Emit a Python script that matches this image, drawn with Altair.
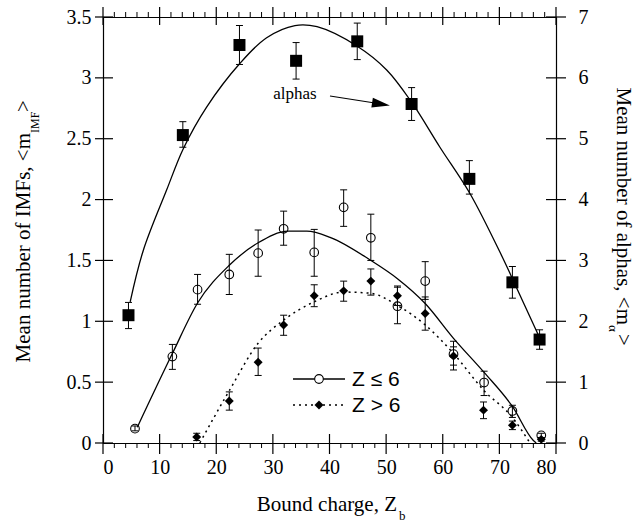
import altair as alt
import pandas as pd

# ---------------- data ----------------
# alphas (right axis units, <m_alpha>)
a_x = [4.5, 14.1, 24.1, 34.1, 44.9, 54.5, 64.7, 72.3, 77.1]
a_y = [2.10, 5.06, 6.54, 6.28, 6.60, 5.57, 4.34, 2.64, 1.70]
a_hi = [2.31, 5.28, 6.86, 6.58, 6.90, 5.84, 4.64, 2.90, 1.86]
a_lo = [1.88, 4.86, 6.22, 5.98, 6.30, 5.30, 4.09, 2.38, 1.54]

a_fit_x = [4.8, 7.1, 11.25, 14.2, 18.3, 24.2, 28.9, 33.9, 37.8, 44.9, 50.1, 54.5, 59.5, 64.8, 70.6, 72.3, 76.9]
a_fit_y = [2.32, 3.16, 4.16, 4.84, 5.52, 6.24, 6.66, 6.86, 6.84, 6.52, 6.13, 5.60, 4.86, 4.10, 3.04, 2.70, 1.77]

# IMFs, Z <= 6 (left axis units)
c_x = [5.65, 12.25, 16.7, 22.3, 27.4, 31.9, 37.3, 42.5, 47.3, 52.0, 56.9, 61.9, 67.3, 72.3, 77.4]
c_y = [0.118, 0.71, 1.26, 1.385, 1.56, 1.76, 1.566, 1.936, 1.686, 1.124, 1.33, 0.73, 0.497, 0.263, 0.063]
c_hi = [0.14, 0.81, 1.385, 1.55, 1.75, 1.905, 1.755, 2.08, 1.88, 1.28, 1.49, 0.836, 0.59, 0.31, 0.08]
c_lo = [0.10, 0.605, 1.14, 1.22, 1.37, 1.625, 1.37, 1.78, 1.50, 0.98, 1.18, 0.60, 0.39, 0.21, 0.045]

c_fit_x = [6.06, 12.25, 16.7, 22.3, 27.4, 32.7, 36.0, 40.1, 47.3, 52.0, 56.9, 61.9, 67.3, 72.3, 76.0, 76.5]
c_fit_y = [0.13, 0.735, 1.15, 1.46, 1.645, 1.74, 1.74, 1.69, 1.50, 1.35, 1.146, 0.86, 0.58, 0.30, 0.02, 0.0]

# IMFs, Z > 6 (left axis units)
d_x = [16.55, 22.3, 27.4, 31.9, 37.3, 42.5, 47.3, 52.0, 56.9, 61.9, 67.2, 72.3, 77.4]
d_y = [0.05, 0.345, 0.664, 0.97, 1.21, 1.25, 1.33, 1.21, 1.064, 0.715, 0.27, 0.146, 0.03]
d_hi = [0.08, 0.42, 0.78, 1.05, 1.30, 1.33, 1.43, 1.29, 1.20, 0.79, 0.337, 0.18, 0.045]
d_lo = [0.02, 0.27, 0.555, 0.885, 1.12, 1.165, 1.215, 1.13, 0.927, 0.64, 0.20, 0.11, 0.015]

d_fit_x = [17.1, 22.3, 27.4, 31.9, 37.3, 42.5, 47.3, 52.0, 56.9, 61.9, 67.3, 72.3, 75.4]
d_fit_y = [0.0, 0.43, 0.82, 1.01, 1.16, 1.24, 1.23, 1.13, 0.97, 0.735, 0.43, 0.21, 0.0]

# tick positions / labels
x_major = [0, 10, 20, 30, 40, 50, 60, 70, 80]
x_minor = [2, 4, 6, 8, 12, 14, 16, 18, 22, 24, 26, 28, 32, 34, 36, 38, 42, 44, 46, 48,
           52, 54, 56, 58, 62, 64, 66, 68, 72, 74, 76, 78]
y_left_ticks = [0, 0.5, 1, 1.5, 2, 2.5, 3, 3.5]
y_right_ticks = [0, 1, 2, 3, 4, 5, 6, 7]

# ---------------- helpers ----------------
SERIF = "Liberation Serif"
SANS = "Liberation Sans"

xaxis = alt.Axis(values=x_major, ticks=False, domain=True, labelPadding=14, format="d",
                 labelOverlap=False, labelFont=SERIF, labelFontSize=20,
                 labelColor="black", grid=False)
yaxis_l = alt.Axis(values=y_left_ticks, ticks=False, domain=True, labelPadding=12, format="~g",
                   labelOverlap=False, labelFont=SERIF, labelFontSize=20,
                   labelColor="black", grid=False)
yaxis_r = alt.Axis(orient="right", values=y_right_ticks, ticks=False, domain=True, format="d",
                   labelOverlap=False, labelPadding=22, labelFont=SERIF, labelFontSize=20,
                   labelColor="black", grid=False)


def X(field="x"):
    return alt.X(f"{field}:Q", scale=alt.Scale(domain=[0, 80], nice=False), axis=xaxis, title=None)


def YL(field="y"):
    return alt.Y(f"{field}:Q", scale=alt.Scale(domain=[0, 3.5], nice=False), axis=yaxis_l, title=None)


def YR(field="y"):
    return alt.Y(f"{field}:Q", scale=alt.Scale(domain=[0, 7], nice=False), axis=yaxis_r, title=None)


alphas = pd.DataFrame({"x": a_x, "y": a_y, "hi": a_hi, "lo": a_lo})
alpha_fit = pd.DataFrame({"x": a_fit_x, "y": a_fit_y})
circ = pd.DataFrame({"x": c_x, "y": c_y, "hi": c_hi, "lo": c_lo})
circ_fit = pd.DataFrame({"x": c_fit_x, "y": c_fit_y})
diam = pd.DataFrame({"x": d_x, "y": d_y, "hi": d_hi, "lo": d_lo})
diam_fit = pd.DataFrame({"x": d_fit_x, "y": d_fit_y})

one = pd.DataFrame({"a": [0]})

# ---------------- left-axis layers ----------------
left_layers = []

xt_major_bot = pd.DataFrame({"x": x_major, "y": [0] * len(x_major)})
xt_major_top = pd.DataFrame({"x": x_major, "y": [3.5] * len(x_major)})
xt_minor_bot = pd.DataFrame({"x": x_minor, "y": [0] * len(x_minor)})
xt_minor_top = pd.DataFrame({"x": x_minor, "y": [3.5] * len(x_minor)})
yt_left = pd.DataFrame({"x": [0] * len(y_left_ticks), "y": y_left_ticks})

TK = dict(color="black", opacity=1)
left_layers.append(alt.Chart(xt_major_bot).mark_tick(orient="vertical", size=20, thickness=1.2, yOffset=1, **TK).encode(x=X(), y=YL()))
left_layers.append(alt.Chart(xt_major_top).mark_tick(orient="vertical", size=18, thickness=1.2, yOffset=-1, **TK).encode(x=X(), y=YL()))
left_layers.append(alt.Chart(xt_minor_bot).mark_tick(orient="vertical", size=5, thickness=1, yOffset=2.5, **TK).encode(x=X(), y=YL()))
left_layers.append(alt.Chart(xt_minor_top).mark_tick(orient="vertical", size=5, thickness=1, yOffset=-2.5, **TK).encode(x=X(), y=YL()))
left_layers.append(alt.Chart(yt_left).mark_tick(orient="horizontal", size=18, thickness=1.2, xOffset=1, **TK).encode(x=X(), y=YL()))

# curves
left_layers.append(alt.Chart(circ_fit).mark_line(color="black", strokeWidth=1.3, interpolate="monotone").encode(x=X(), y=YL()))
left_layers.append(alt.Chart(diam_fit).mark_line(color="black", strokeWidth=1.5, strokeDash=[2, 4], interpolate="monotone").encode(x=X(), y=YL()))

# error bars
for df in (circ, diam):
    left_layers.append(alt.Chart(df).mark_rule(color="black", strokeWidth=1, opacity=1).encode(x=X(), y=YL("lo"), y2="hi:Q"))
    left_layers.append(alt.Chart(df).mark_tick(orient="horizontal", size=7, thickness=1, **TK).encode(x=X(), y=YL("hi")))
    left_layers.append(alt.Chart(df).mark_tick(orient="horizontal", size=7, thickness=1, **TK).encode(x=X(), y=YL("lo")))

# points
left_layers.append(alt.Chart(circ).mark_point(shape="circle", filled=False, size=75, color="black", strokeWidth=1.1, opacity=1).encode(x=X(), y=YL()))
left_layers.append(alt.Chart(diam).mark_point(shape="diamond", filled=True, size=80, color="black", opacity=1).encode(x=X(), y=YL()))

# legend (manual)
left_layers.append(alt.Chart(one).mark_rule(color="black", strokeWidth=1.3).encode(x=alt.value(190), x2=alt.value(242), y=alt.value(362)))
left_layers.append(alt.Chart(one).mark_rule(color="black", strokeWidth=1.5, strokeDash=[2, 4]).encode(x=alt.value(190), x2=alt.value(242), y=alt.value(388)))
left_layers.append(alt.Chart(one).mark_point(shape="circle", filled=True, fill="white", stroke="black", strokeWidth=1.1, size=75, opacity=1).encode(x=alt.value(216), y=alt.value(362)))
left_layers.append(alt.Chart(one).mark_point(shape="diamond", filled=True, size=80, color="black", opacity=1).encode(x=alt.value(216), y=alt.value(388)))
left_layers.append(alt.Chart(one).mark_text(text="Z \u2264 6", font=SANS, fontSize=21, align="left", baseline="middle", color="black").encode(x=alt.value(249), y=alt.value(363)))
left_layers.append(alt.Chart(one).mark_text(text="Z > 6", font=SANS, fontSize=21, align="left", baseline="middle", color="black").encode(x=alt.value(249), y=alt.value(389)))

# "alphas" annotation with arrow
left_layers.append(alt.Chart(one).mark_text(text="alphas", font=SERIF, fontSize=17, align="center", baseline="middle", color="black").encode(x=alt.value(192), y=alt.value(77)))
left_layers.append(alt.Chart(one).mark_rule(color="black", strokeWidth=1.2).encode(x=alt.value(227), x2=alt.value(275), y=alt.value(79), y2=alt.value(86.5)))
left_layers.append(alt.Chart(one).mark_point(shape="M-1,-0.55L1,0L-1,0.55Z", filled=True, color="black", size=324, angle=9, opacity=1).encode(x=alt.value(278), y=alt.value(87)))

# axis titles (text marks so subscripts can be drawn)
left_layers.append(alt.Chart(one).mark_text(text="Bound charge, Z", font=SERIF, fontSize=21, align="right", baseline="middle", color="black").encode(x=alt.value(294), y=alt.value(488)))
left_layers.append(alt.Chart(one).mark_text(text="b", font=SERIF, fontSize=13, align="left", baseline="middle", color="black").encode(x=alt.value(296), y=alt.value(499)))

left_layers.append(alt.Chart(one).mark_text(text="Mean number of IMFs, <m", font=SERIF, fontSize=21, angle=270, align="right", baseline="middle", color="black").encode(x=alt.value(-79), y=alt.value(116)))
left_layers.append(alt.Chart(one).mark_text(text="IMF", font=SERIF, fontSize=12, angle=270, align="left", baseline="middle", color="black").encode(x=alt.value(-68), y=alt.value(116)))
left_layers.append(alt.Chart(one).mark_text(text=">", font=SERIF, fontSize=21, angle=270, align="left", baseline="middle", color="black").encode(x=alt.value(-79), y=alt.value(95)))

left_layers.append(alt.Chart(one).mark_text(text="Mean number of alphas, <m", font=SERIF, fontSize=21, angle=90, align="right", baseline="middle", color="black").encode(x=alt.value(520), y=alt.value(308)))
left_layers.append(alt.Chart(one).mark_text(text="\u03b1", font=SERIF, fontSize=13, angle=90, align="left", baseline="middle", color="black").encode(x=alt.value(510), y=alt.value(308)))
left_layers.append(alt.Chart(one).mark_text(text=">", font=SERIF, fontSize=21, angle=90, align="left", baseline="middle", color="black").encode(x=alt.value(520), y=alt.value(317)))

left = alt.layer(*left_layers)

# ---------------- right-axis layers (alphas) ----------------
yt_right = pd.DataFrame({"x": [80] * len(y_right_ticks), "y": y_right_ticks})
right_layers = [
    alt.Chart(yt_right).mark_tick(orient="horizontal", size=20, thickness=1.2, **TK).encode(x=X(), y=YR()),
    alt.Chart(alpha_fit).mark_line(color="black", strokeWidth=1.3, interpolate="catmull-rom").encode(x=X(), y=YR()),
    alt.Chart(alphas).mark_rule(color="black", strokeWidth=1, opacity=1).encode(x=X(), y=YR("lo"), y2="hi:Q"),
    alt.Chart(alphas).mark_tick(orient="horizontal", size=7, thickness=1, **TK).encode(x=X(), y=YR("hi")),
    alt.Chart(alphas).mark_tick(orient="horizontal", size=7, thickness=1, **TK).encode(x=X(), y=YR("lo")),
    alt.Chart(alphas).mark_square(filled=True, size=144, color="black", opacity=1).encode(x=X(), y=YR()),
]
right = alt.layer(*right_layers)

chart = (
    alt.layer(left, right)
    .resolve_scale(y="independent")
    .properties(
        width=453,
        height=426,
        padding={"left": 103, "top": 17, "right": 85, "bottom": 80},
        autosize=alt.AutoSizeParams(type="none"),
        background="white",
    )
    .configure_view(stroke="black", strokeWidth=1)
    .configure_axis(domainColor="black", domainWidth=1.2)
)

chart.save("out.html", embed_options={"renderer": "svg", "actions": False})
